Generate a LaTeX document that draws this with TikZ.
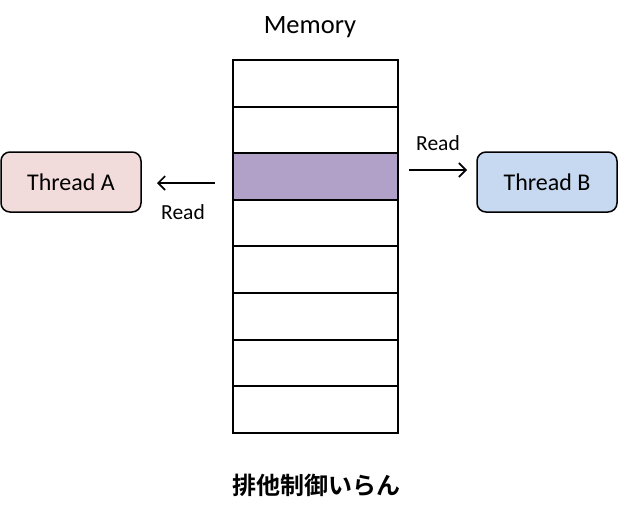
\documentclass[tikz,border=0pt]{standalone}
\usepackage{fontspec}
\setmainfont{Carlito}
\newfontfamily\cjkfont{Noto Sans CJK JP}[BoldFont={Noto Sans CJK JP Bold}]
\usetikzlibrary{arrows.meta,positioning}
\definecolor{pinkA}{HTML}{F2DCDB}
\definecolor{blueB}{HTML}{C6D9F0}
\definecolor{purpleC}{HTML}{B1A0C7}
\begin{document}
\begin{tikzpicture}[x=1pt,y=-1pt,
  cell/.style={draw=black,line width=2pt,minimum width=165pt,minimum height=46.6pt,inner sep=0pt,outer sep=0pt,anchor=north},
  thread/.style={draw=black,line width=1.5pt,rounded corners=9pt,minimum width=140pt,minimum height=60pt,inner sep=0pt,font=\fontsize{24}{28}\selectfont},
  lbl/.style={font=\fontsize{21.5}{24}\selectfont,inner sep=0pt},
  rd/.style={line width=1.6pt,-{Straight Barb[length=7pt,width=14pt,line width=1.6pt]}}]
\path[use as bounding box,fill=white] (0,0) rectangle (620,514);
\node[cell] (c1) at (315.5,60) {};
\node[cell,below=0pt of c1] (c2) {};
\node[cell,below=0pt of c2,fill=purpleC] (c3) {};
\node[cell,below=0pt of c3] (c4) {};
\node[cell,below=0pt of c4] (c5) {};
\node[cell,below=0pt of c5] (c6) {};
\node[cell,below=0pt of c6] (c7) {};
\node[cell,below=0pt of c7] (c8) {};
\node[font=\fontsize{26.5}{30}\selectfont,inner sep=0pt] (mem) at (310,27) {Memory};
\node[thread,fill=pinkA] (ta) at (71,182) {Thread A};
\node[thread,fill=blueB] (tb) at (547,182) {Thread B};
\coordinate (a1) at (215,183);
\coordinate (a2) at (157,183);
\draw[rd] (a1) -- (a2);
\node[lbl] (ra) at (183,212) {Read};
\coordinate (b1) at (409,170);
\coordinate (b2) at (467,170);
\draw[rd] (b1) -- (b2);
\node[lbl] (rb) at (438,143) {Read};
\node[font=\cjkfont\bfseries\fontsize{24}{28}\selectfont,inner sep=0pt] (cap) at (316,485) {排他制御いらん};
\end{tikzpicture}
\end{document}
